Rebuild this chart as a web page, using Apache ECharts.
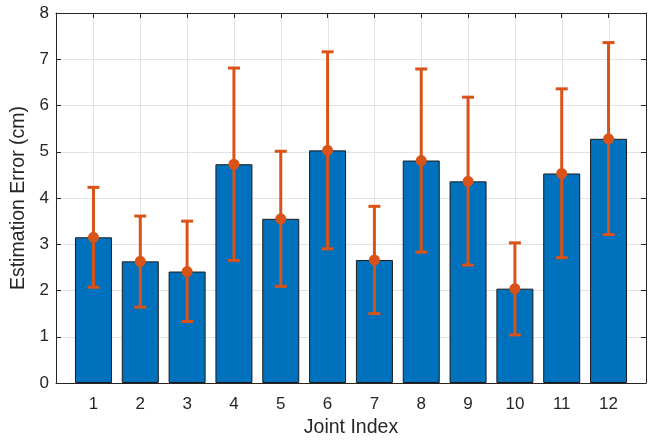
<!DOCTYPE html>
<html>
<head>
<meta charset="utf-8">
<script src="https://cdn.jsdelivr.net/npm/echarts@6/dist/echarts.min.js"></script>
<style>
html,body{margin:0;padding:0;background:#fff;}
#chart{width:655px;height:440px;}
</style>
</head>
<body>
<div id="chart"></div>
<script>
var joints = [1, 2, 3, 4, 5, 6, 7, 8, 9, 10, 11, 12];
var meanErr = [3.15, 2.63, 2.41, 4.73, 3.55, 5.03, 2.66, 4.81, 4.36, 2.04, 4.53, 5.28];
var lowErr = [2.07, 1.64, 1.33, 2.65, 2.09, 2.90, 1.50, 2.83, 2.55, 1.04, 2.71, 3.21];
var highErr = [4.23, 3.61, 3.50, 6.81, 5.01, 7.16, 3.82, 6.79, 6.18, 3.03, 6.36, 7.36];
var yTicks = [0, 1, 2, 3, 4, 5, 6, 7, 8];

var FONT = 'Liberation Sans, Arial, Helvetica, sans-serif';
var AXC = '#262626';
var GRIDC = '#e3e3e3';

var barData = joints.map(function (j, i) { return [j, meanErr[i]]; });
var errData = joints.map(function (j, i) { return [j, meanErr[i], lowErr[i], highErr[i]]; });
var vGridData = joints.map(function (j) { return [j]; });

var chart = echarts.init(document.getElementById('chart'), null, {renderer: 'canvas'});

var option = {
  animation: false,
  backgroundColor: '#ffffff',
  grid: {left: 56, right: 9, top: 13, bottom: 57, containLabel: false, outerBoundsMode: 'none'},
  xAxis: [{
    type: 'value', min: 0.2, max: 12.8, position: 'bottom',
    name: 'Joint Index', nameLocation: 'middle', nameGap: 32,
    nameTextStyle: {fontFamily: FONT, fontSize: 19.5, color: AXC},
    axisLine: {show: true, onZero: false, lineStyle: {color: AXC, width: 1}},
    axisTick: {show: true, inside: true, length: 5, customValues: joints, lineStyle: {color: AXC}},
    axisLabel: {show: true, customValues: joints, margin: 13, fontFamily: FONT, fontSize: 17, color: AXC,
      formatter: function (v) { return String(Math.round(v)); }},
    splitLine: {show: false}
  }, {
    type: 'value', min: 0.2, max: 12.8, position: 'top',
    axisLine: {show: true, onZero: false, lineStyle: {color: AXC, width: 1}},
    axisTick: {show: true, inside: true, length: 5, customValues: joints, lineStyle: {color: AXC}},
    axisLabel: {show: false},
    splitLine: {show: false}
  }],
  yAxis: [{
    type: 'value', min: 0, max: 8, interval: 1, position: 'left',
    name: 'Estimation Error (cm)', nameLocation: 'middle', nameGap: 19,
    nameTextStyle: {fontFamily: FONT, fontSize: 19.5, color: AXC},
    axisLine: {show: true, onZero: false, lineStyle: {color: AXC, width: 1}},
    axisTick: {show: true, inside: true, length: 5, lineStyle: {color: AXC}},
    axisLabel: {show: true, margin: 7, fontFamily: FONT, fontSize: 17, color: AXC,
      formatter: function (v) { return String(v); }},
    splitLine: {show: true, lineStyle: {color: GRIDC, width: 1}}
  }, {
    type: 'value', min: 0, max: 8, interval: 1, position: 'right',
    axisLine: {show: true, onZero: false, lineStyle: {color: AXC, width: 1}},
    axisTick: {show: true, inside: true, length: 5, lineStyle: {color: AXC}},
    axisLabel: {show: false},
    splitLine: {show: false}
  }],
  series: [{
    type: 'custom', name: 'vgrid', xAxisIndex: 0, yAxisIndex: 0, z: 0, silent: true,
    data: vGridData,
    renderItem: function (params, api) {
      var top = api.coord([api.value(0), 8]);
      var bot = api.coord([api.value(0), 0]);
      return {type: 'line', shape: {x1: Math.round(top[0]) + 0.5, y1: top[1], x2: Math.round(bot[0]) + 0.5, y2: bot[1]},
        style: {stroke: GRIDC, lineWidth: 1}};
    }
  }, {
    type: 'bar', name: 'mean', xAxisIndex: 0, yAxisIndex: 0, z: 2,
    data: barData, barWidth: 37,
    itemStyle: {color: '#0072BD', borderColor: '#1a1a1a', borderWidth: 1}
  }, {
    type: 'custom', name: 'err', xAxisIndex: 0, yAxisIndex: 0, z: 5, silent: true,
    data: errData,
    encode: {x: 0, y: [1, 2, 3]},
    renderItem: function (params, api) {
      var x = api.value(0);
      var pm = api.coord([x, api.value(1)]);
      var pl = api.coord([x, api.value(2)]);
      var ph = api.coord([x, api.value(3)]);
      var cw = 6;
      var st = {stroke: '#D95319', lineWidth: 3};
      return {type: 'group', children: [
        {type: 'line', shape: {x1: pl[0], y1: pl[1], x2: ph[0], y2: ph[1]}, style: st},
        {type: 'line', shape: {x1: ph[0] - cw, y1: ph[1], x2: ph[0] + cw, y2: ph[1]}, style: st},
        {type: 'line', shape: {x1: pl[0] - cw, y1: pl[1], x2: pl[0] + cw, y2: pl[1]}, style: st},
        {type: 'circle', shape: {cx: pm[0], cy: pm[1], r: 5.5}, style: {fill: '#D95319'}}
      ]};
    }
  }]
};
chart.setOption(option);
</script>
</body>
</html>
